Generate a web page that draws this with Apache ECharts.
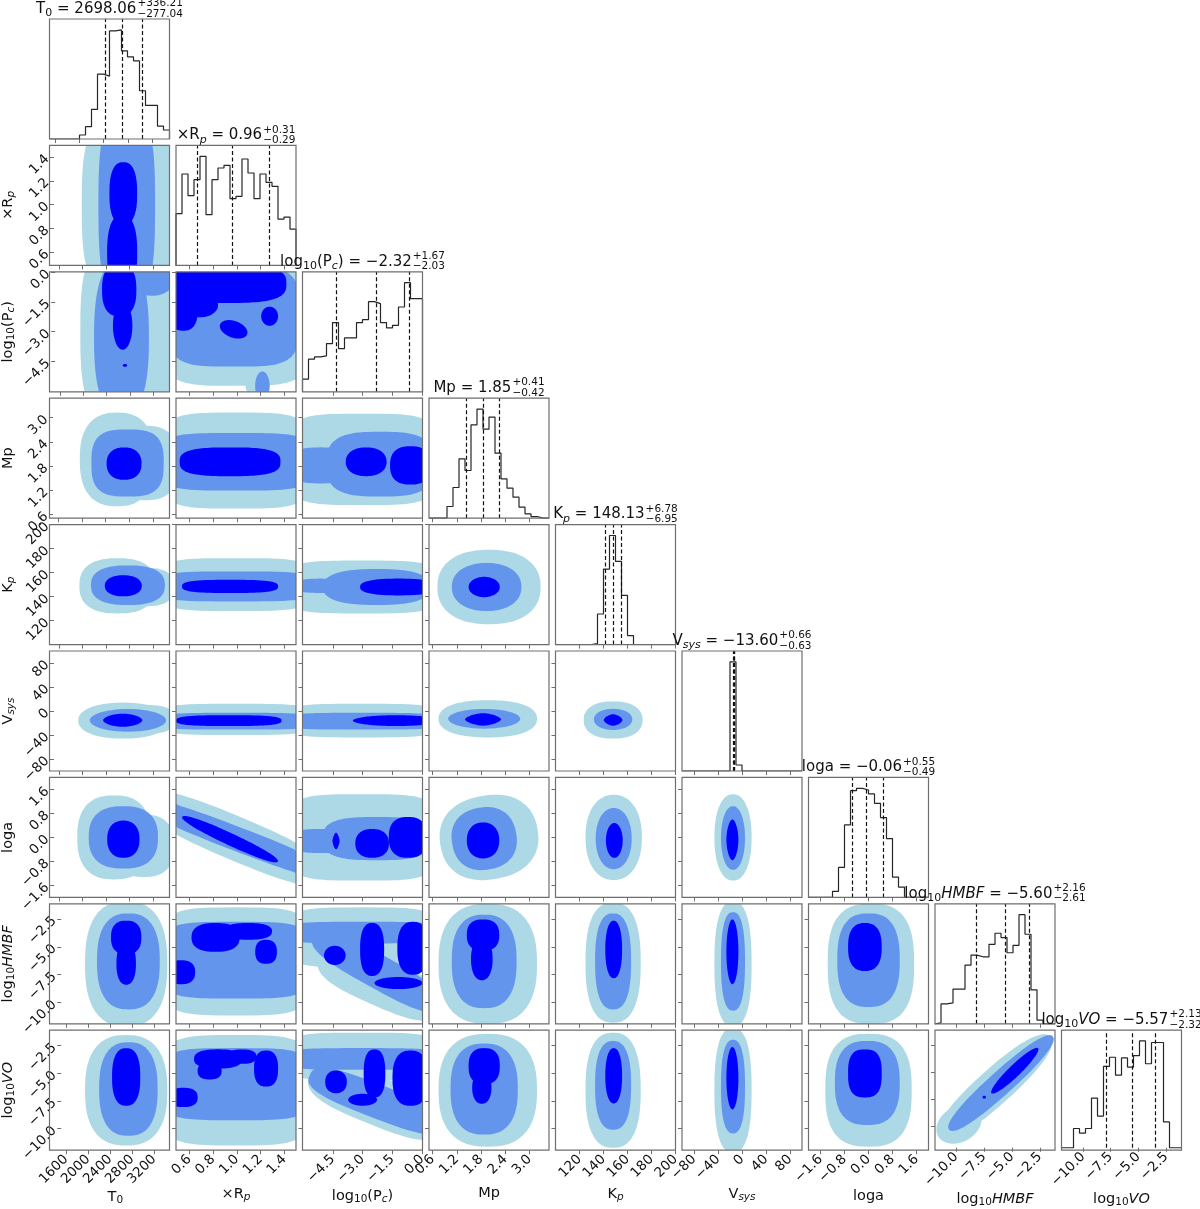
<!DOCTYPE html>
<html><head><meta charset="utf-8">
<script src="https://cdn.jsdelivr.net/npm/echarts@6/dist/echarts.min.js"></script>
<style>html,body{margin:0;padding:0;background:#fff}#c{width:1200px;height:1209px}</style>
</head><body><div id="c"></div>
<script>
// ---------------- DATA ----------------
const axisMin = [1513, 0.488, -6.03, 0.51, 100, -100, -2, -11.9, -11.95];
const axisMax = [3480, 1.498, 0.02, 3.48, 200, 100, 2, -1.15, -1.1];
const tickValues = [
  [1600,2000,2400,2800,3200],[0.6,0.8,1.0,1.2,1.4],[-4.5,-3.0,-1.5,0.0],[0.6,1.2,1.8,2.4,3.0],
  [120,140,160,180,200],[-80,-40,0,40,80],[-1.6,-0.8,0.0,0.8,1.6],[-10.0,-7.5,-5.0,-2.5],[-10.0,-7.5,-5.0,-2.5]];
const tickLabels = [
  ['1600','2000','2400','2800','3200'],['0.6','0.8','1.0','1.2','1.4'],['−4.5','−3.0','−1.5','0.0'],
  ['0.6','1.2','1.8','2.4','3.0'],['120','140','160','180','200'],['−80','−40','0','40','80'],
  ['−1.6','−0.8','0.0','0.8','1.6'],['−10.0','−7.5','−5.0','−2.5'],['−10.0','−7.5','−5.0','−2.5']];
const labelFrags = [
  [['T','n'],['0','s']],
  [['×R','n'],['p','si']],
  [['log','n'],['10','s'],['(P','n'],['c','si'],[')','n']],
  [['Mp','n']],
  [['K','n'],['p','si']],
  [['V','n'],['sys','si']],
  [['loga','n']],
  [['log','n'],['10','s'],['HMBF','i']],
  [['log','n'],['10','s'],['VO','i']]];
const medians = [2698.06, 0.96, -2.32, 1.85, 148.13, -13.60, -0.06, -5.60, -5.57];
const errPlus = [336.21, 0.31, 1.67, 0.41, 6.78, 0.66, 0.55, 2.16, 2.13];
const errMinus = [277.04, 0.29, 2.03, 0.42, 6.95, 0.63, 0.49, 2.61, 2.32];

const histT0   = [0,0,0,0,0,12,37,89,195,189,325,328,265,247,235,145,101,101,39,27];
const histRp   = [155,274,209,257,327,152,257,292,300,200,207,319,277,200,274,249,237,139,145,109];
const histPc   = [38,98,105,108,145,208,130,162,162,208,217,271,265,208,192,200,255,328,280,280];
const histMp   = [0,0,0,35,92,178,143,280,327,267,303,195,118,90,63,33,13,5,0,0];
const histKp   = [0,0,0,0,0,0,3,92,227,328,250,148,27,0,0,0,0,0,0,0];
const histVsys = [0,0,0,0,0,0,0,0,310,17,0,0,0,0,0,0,0,0,0,0];
const histLoga = [0,0,0,0,18,90,218,321,328,323,311,283,240,177,61,31,0,0,0,0];
const histHMBF = [3,59,62,103,103,174,204,199,199,236,269,256,211,233,324,266,101,11,0,0];
const histVO   = [0,0,59,45,59,152,97,249,277,222,275,247,282,327,257,322,322,79,0,0];

// contour blobs: [level, cx, cy, rx, ry, rotationDeg, exponent]  (data units)
const c_1_0 = [[0,2811,0.993,826,0.808,0,3],[1,2752,0.993,482,0.808,0,3],[2,2693,1.094,236,0.263,0,2.5],[2,2674,0.589,256,0.323,0,2.5]];
const c_2_0 = [[0,2772,-3.0,826,4.84,0,3],[1,2654,-3.31,472,3.93,0,2.5],[1,3185,-0.28,393,0.91,0,2],[2,2615,-0.89,295,1.33,0,2.5],[2,2674,-2.7,167,1.21,0,2],[2,2713,-4.7,39,0.07,0,2]];
const c_3_0 = [[0,2595,1.965,629,1.158,0,2.5],[0,3087,1.876,551,0.921,0,2.5],[1,2772,1.876,610,0.832,0,3],[2,2713,1.861,295,0.401,0,2.3]];
const c_4_0 = [[0,2595,149,649,23,0,2.5],[0,3087,148,472,16,0,2.5],[1,2772,149.5,629,16.5,0,2.5],[2,2693,149,315,8.8,0,2.2]];
const c_5_0 = [[0,2693,-16,767,30,0,2.2],[0,3087,-14,492,24,0,2.5],[1,2772,-15.6,649,19,0,2],[2,2683,-15.4,334,11,0,1.8]];
const c_6_0 = [[0,2536,0,629,1.4,0,2.5],[0,3047,-0.28,511,1.04,0,2.5],[1,2693,0,590,1.04,0,2.5],[2,2693,-0.06,275,0.62,0,2.3]];
const c_7_0 = [[0,2693,-6.53,747,5.59,0,2.5],[1,2733,-6.31,570,4.3,0,2.5],[2,2693,-4.16,275,1.5,0,2.5],[2,2693,-6.5,177,1.9,0,2.3]];
const c_8_0 = [[0,2693,-6.53,747,4.99,0,2.5],[1,2733,-6.42,531,4.23,0,2.5],[2,2693,-5.33,256,2.6,0,2.5]];
const c_2_1 = [[0,0.993,-2.4,0.657,3.33,0,4],[0,1.175,-5.73,0.101,0.605,0,2],[1,0.973,-2.22,0.556,2.54,0,4],[1,1.215,-5.73,0.061,0.726,0,2],
  [2,0.912,-0.585,0.505,0.968,0,3],[2,0.549,-1.92,0.121,1.03,0,2.5],[2,0.69,-1.67,0.152,0.605,0,2],[2,0.973,-2.88,0.121,0.42,-20,2],[2,1.276,-2.22,0.071,0.484,0,2]];
const c_3_1 = [[0,0.993,1.936,0.657,1.188,0,4],[1,0.993,1.906,0.657,0.713,0,4],[2,0.943,1.906,0.424,0.356,0,3]];
const c_4_1 = [[0,0.993,150,0.657,22,0,4],[1,0.993,148.5,0.657,12.5,0,4],[2,0.943,148.5,0.404,5.5,0,3]];
const c_5_1 = [[0,0.993,-14,0.657,26,0,4],[1,0.993,-17,0.657,14,0,4],[2,0.932,-16,0.444,9,0,3]];
const c_6_1 = [[0,0.993,-0.04,0.909,0.72,-23,2.5],[1,0.993,-0.04,0.909,0.4,-21,2.5],[2,0.943,-0.06,0.444,0.2,-25,2.2]];
const c_7_1 = [[0,0.993,-6.31,0.657,4.84,0,4],[1,0.993,-6.2,0.657,3.44,0,4],[2,0.821,-4.16,0.202,1.29,0,2.5],[2,1.094,-3.62,0.202,0.75,0,2.5],
  [2,1.246,-5.45,0.091,1.075,0,2.5],[2,0.528,-7.28,0.121,1.075,0,2.5]];
const c_8_1 = [[0,0.993,-6.53,0.657,4.99,0,4],[1,0.993,-5.98,0.657,3.26,0,4],[2,0.842,-3.7,0.202,0.87,0,2.5],[2,0.771,-4.79,0.101,0.76,0,2.5],
  [2,1.044,-3.49,0.121,0.65,0,2.5],[2,1.246,-4.57,0.101,1.63,0,2.5],[2,0.549,-7.18,0.121,0.87,0,2.5]];
const c_3_2 = [[0,-3.0,1.965,3.93,1.129,0,4],[1,-2.1,1.847,2.72,0.802,0,3],[1,-5.12,1.817,1.815,0.446,0,2.5],[2,-2.82,1.906,1.03,0.356,0,2.2],[2,-0.585,1.817,1.03,0.475,0,2.5]];
const c_4_2 = [[0,-3.0,148,3.93,22,0,4],[1,-2.28,148,2.72,15,0,2.5],[1,-5.12,149,1.815,6,0,2],[2,-1.19,148,1.936,7,0,2.5]];
const c_5_2 = [[0,-3.0,-16,3.93,28,0,4],[1,-3.0,-17,3.93,14,0,4],[2,-1.31,-16,2.18,9,0,2]];
const c_6_2 = [[0,-3.0,0,3.93,1.44,0,4],[1,-2.28,-0.04,2.72,0.72,0,3],[1,-5.12,-0.12,1.815,0.4,0,2.5],[2,-4.34,-0.12,0.18,0.28,0,1.5],
  [2,-2.52,-0.2,0.847,0.48,0,2.3],[2,-0.71,0,0.968,0.68,0,2.5]];
const c_7_2 = [[0,-3.0,-4.16,3.93,2.69,0,4],[0,-2.1,-8.14,3.33,2.15,-24,3],[1,-3.0,-3.73,3.93,0.97,0,4],[1,-2.28,-7.17,3.63,1.51,-29,3],
  [2,-4.4,-5.77,0.545,0.86,0,2],[2,-2.52,-5.24,0.605,2.37,0,2.5],[2,-1.19,-8.25,1.21,0.54,0,2],[2,-0.46,-5.13,0.787,2.37,0,2.5]];
const c_8_2 = [[0,-3.0,-3.49,3.93,2.17,0,4],[0,-2.28,-7.5,3.63,2.17,-22,3],[1,-3.0,-3.7,3.93,0.98,0,4],[1,-2.28,-7.52,3.63,1.52,-21,3],
  [2,-4.34,-5.77,0.545,1.03,0,2.2],[2,-2.4,-5.01,0.545,2.17,0,2.5],[2,-3.0,-7.39,0.726,0.54,0,2],[2,-0.585,-5.44,0.908,2.5,0,2.5]];
const c_4_3 = [[0,1.995,148,1.277,31,0,2.3],[1,1.936,148,0.861,20,0,2.2],[2,1.876,148,0.386,8.5,0,2]];
const c_5_3 = [[0,1.965,-13,1.218,31,0,2.3],[1,1.876,-13,0.891,16.4,0,2],[2,1.847,-14,0.446,10.4,0,1.6]];
const c_6_3 = [[0,1.995,0,1.218,1.4,10,2.3],[1,1.876,-0.04,0.802,1.04,10,2.3],[2,1.847,-0.1,0.401,0.6,0,2.2]];
const c_7_3 = [[0,1.965,-6.53,1.218,5.38,0,2.5],[1,1.876,-6.31,0.802,4.19,0,2.5],[2,1.847,-3.95,0.401,1.4,0,2.5],[2,1.817,-6.1,0.267,1.9,0,2.2]];
const c_8_3 = [[0,1.965,-6.53,1.218,5.1,0,2.5],[1,1.876,-6.42,0.832,4.12,0,2.5],[2,1.876,-4.35,0.386,1.63,0,2.5],[2,1.817,-6.3,0.238,1.45,0,2.2]];
const c_5_4 = [[0,148,-15,24.5,31,0,2.3],[1,148,-14,16,17.6,0,2.1],[2,148,-15,7.8,9.6,0,1.6]];
const c_6_4 = [[0,148.5,0,23.5,1.42,0,2.2],[1,148.5,-0.04,15,1.02,0,2.1],[2,149,-0.1,7,0.58,0,2]];
const c_7_4 = [[0,148,-6.42,23,5.38,0,2.5],[1,148,-6.31,15,4.3,0,2.5],[2,148.5,-5.24,7,2.58,0,2.2]];
const c_8_4 = [[0,148,-6.53,23,5.2,0,2.5],[1,148,-6.09,15,4.01,0,2.5],[2,148.5,-5.22,7,2.5,0,2.2]];
const c_6_5 = [[0,-15,0,31,1.44,0,2.2],[1,-15,-0.02,20,1.06,0,2.1],[2,-16,-0.08,10,0.68,0,1.8]];
const c_7_5 = [[0,-15,-6.53,31,5.59,0,2.5],[1,-15,-6.31,20,4.41,0,2.5],[2,-16,-5.45,10,2.9,0,2]];
const c_8_5 = [[0,-15,-6.53,31,5.64,0,2.5],[1,-15,-6.2,20,4.23,0,2.5],[2,-16,-5.44,10,2.82,0,2]];
const c_7_6 = [[0,0.08,-6.53,1.44,5.38,0,2.7],[1,0,-6.2,1.04,4.19,0,2.6],[2,-0.12,-5.02,0.56,2.15,0,2.5]];
const c_8_6 = [[0,0,-6.53,1.44,5.1,0,2.7],[1,-0.04,-5.87,1.08,3.8,0,2.6],[2,-0.12,-5.01,0.56,2.17,0,2.8]];
const c_8_7 = [[0,-6.53,-6.31,6.67,1.63,42,2.3],[0,-9.75,-9.78,2.15,1.63,30,2],[1,-5.99,-5.98,6.24,1.09,42,2.3],[2,-4.75,-4.84,2.9,0.54,44,2],[2,-7.49,-7.28,0.16,0.13,0,2]];

// ---------------- BUILD ----------------
const hists = [histT0, histRp, histPc, histMp, histKp, histVsys, histLoga, histHMBF, histVO];
const contours = {
  '1_0':c_1_0,'2_0':c_2_0,'3_0':c_3_0,'4_0':c_4_0,'5_0':c_5_0,'6_0':c_6_0,'7_0':c_7_0,'8_0':c_8_0,
  '2_1':c_2_1,'3_1':c_3_1,'4_1':c_4_1,'5_1':c_5_1,'6_1':c_6_1,'7_1':c_7_1,'8_1':c_8_1,
  '3_2':c_3_2,'4_2':c_4_2,'5_2':c_5_2,'6_2':c_6_2,'7_2':c_7_2,'8_2':c_8_2,
  '4_3':c_4_3,'5_3':c_5_3,'6_3':c_6_3,'7_3':c_7_3,'8_3':c_8_3,
  '5_4':c_5_4,'6_4':c_6_4,'7_4':c_7_4,'8_4':c_8_4,
  '6_5':c_6_5,'7_5':c_7_5,'8_5':c_8_5,
  '7_6':c_7_6,'8_6':c_8_6,'8_7':c_8_7};

const N = 9, PANEL = 120, STEP_X = 126.5, STEP_Y = 126.4, LEFT0 = 49.5, TOP0 = 19;
const FONT = '"DejaVu Sans", "Liberation Sans", sans-serif';
const LEVEL_COLORS = ['#add8e6', '#6495ed', '#0000ff'];
const TICK_FS = 13.5, NAME_FS = 14.5, MAIN_FS = 15, SCRIPT_FS = 10.5;

function fmt(v){ return (v < 0 ? '−' : '') + Math.abs(v).toFixed(2); }
function tickLabel(p, v){
  const i = tickValues[p].findIndex(t => Math.abs(t - v) < 1e-6);
  return i >= 0 ? tickLabels[p][i] : '';
}
function richName(p){ return labelFrags[p].map(f => '{' + f[1] + '|' + f[0] + '}').join(''); }
const nameRich = {
  n: {fontSize: NAME_FS, fontFamily: FONT, color: '#111'},
  i: {fontSize: NAME_FS, fontFamily: FONT, color: '#111', fontStyle: 'italic'},
  s: {fontSize: 10.5, fontFamily: FONT, color: '#111', padding: [6,0,0,0]},
  si: {fontSize: 10.5, fontFamily: FONT, color: '#111', fontStyle: 'italic', padding: [6,0,0,0]}
};

function renderBlob(params, api){
  const lvl = api.value(0), cx = api.value(1), cy = api.value(2), rx = api.value(3), ry = api.value(4);
  const rot = api.value(5) * Math.PI / 180, n = api.value(6);
  const c = api.coord([cx, cy]);
  const s = api.size([rx, ry], [cx, cy]);
  const a = s[0], b = s[1];
  const cs = params.coordSys;
  const pts = [];
  const K = 120;
  for (let k = 0; k < K; k++){
    const t = k / K * 2 * Math.PI;
    const ct = Math.cos(t), st = Math.sin(t);
    const u = a * Math.sign(ct) * Math.pow(Math.abs(ct), 2 / n);
    const v = b * Math.sign(st) * Math.pow(Math.abs(st), 2 / n);
    const X = u * Math.cos(rot) - v * Math.sin(rot);
    const Y = u * Math.sin(rot) + v * Math.cos(rot);
    let px = c[0] + X, py = c[1] - Y;
    px = Math.min(Math.max(px, cs.x), cs.x + cs.width);
    py = Math.min(Math.max(py, cs.y), cs.y + cs.height);
    pts.push([px, py]);
  }
  return {type: 'polygon', shape: {points: pts}, style: {fill: LEVEL_COLORS[lvl]}, silent: true};
}

const grids = [], xAxes = [], yAxes = [], series = [], graphics = [];
let gi = 0;
for (let r = 0; r < N; r++){
  for (let c = 0; c <= r; c++){
    const left = LEFT0 + STEP_X * c, top = TOP0 + STEP_Y * r;
    grids.push({left: left, top: top, width: PANEL, height: PANEL, containLabel: false});
    graphics.push({type: 'rect', shape: {x: left, y: top, width: PANEL, height: PANEL},
      style: {fill: 'none', stroke: '#6e6e6e', lineWidth: 1.2}, z: 100, silent: true});
    xAxes.push({
      gridIndex: gi, type: 'value', min: axisMin[c], max: axisMax[c], position: 'bottom',
      axisLine: {show: false, onZero: false}, splitLine: {show: false},
      axisTick: {show: true, inside: false, length: 4, lineStyle: {color: '#6e6e6e', width: 1}, customValues: tickValues[c]},
      axisLabel: {show: r === N - 1, rotate: 45, margin: 7, fontSize: TICK_FS, fontFamily: FONT, color: '#111',
        customValues: tickValues[c], formatter: (v => tickLabel(c, v))},
      name: r === N - 1 ? richName(c) : '', nameLocation: 'middle', nameGap: 36,
      nameTextStyle: {fontSize: NAME_FS, fontFamily: FONT, color: '#111', rich: nameRich}
    });
    if (c === r){
      const h = hists[c];
      const hmax = Math.max.apply(null, h);
      yAxes.push({gridIndex: gi, type: 'value', min: 0, max: hmax * 1.1, position: 'left',
        axisLine: {show: false, onZero: false}, splitLine: {show: false}, axisTick: {show: false}, axisLabel: {show: false}});
      const nb = h.length, w = (axisMax[c] - axisMin[c]) / nb;
      const pts = [[axisMin[c], 0]];
      for (let i = 0; i < nb; i++){
        pts.push([axisMin[c] + i * w, h[i]]);
        pts.push([axisMin[c] + (i + 1) * w, h[i]]);
      }
      pts.push([axisMax[c], 0]);
      series.push({
        type: 'line', xAxisIndex: gi, yAxisIndex: gi, data: pts, symbol: 'none', silent: true, clip: true,
        lineStyle: {color: '#262626', width: 1.2}, animation: false, z: 3,
        markLine: {symbol: ['none', 'none'], silent: true, label: {show: false}, animation: false,
          lineStyle: {color: '#111', type: [4, 2.5], width: 1.2},
          data: [{xAxis: medians[c] - errMinus[c]}, {xAxis: medians[c]}, {xAxis: medians[c] + errPlus[c]}]}
      });
    } else {
      yAxes.push({
        gridIndex: gi, type: 'value', min: axisMin[r], max: axisMax[r], position: 'left',
        axisLine: {show: false, onZero: false}, splitLine: {show: false},
        axisTick: {show: true, inside: false, length: 4, lineStyle: {color: '#6e6e6e', width: 1}, customValues: tickValues[r]},
        axisLabel: {show: c === 0, rotate: 45, margin: 7, fontSize: TICK_FS, fontFamily: FONT, color: '#111',
          customValues: tickValues[r], formatter: (v => tickLabel(r, v))},
        name: c === 0 ? richName(r) : '', nameLocation: 'middle', nameGap: 37, nameRotate: 90,
        nameTextStyle: {fontSize: NAME_FS, fontFamily: FONT, color: '#111', rich: nameRich}
      });
      const blobs = contours[r + '_' + c].slice().sort((p, q) => p[0] - q[0]);
      series.push({type: 'custom', xAxisIndex: gi, yAxisIndex: gi, data: blobs, renderItem: renderBlob,
        encode: {x: 1, y: 2}, clip: true, silent: true, animation: false, z: 2});
    }
    gi++;
  }
}

// titles above the diagonal panels
const mctx = document.createElement('canvas').getContext('2d');
function fontStr(size, italic){ return (italic ? 'italic ' : '') + size + 'px ' + FONT; }
function measure(t, size, italic){ mctx.font = fontStr(size, italic); return mctx.measureText(t).width; }
for (let c = 0; c < N; c++){
  const cxp = LEFT0 + STEP_X * c + PANEL / 2, top = TOP0 + STEP_Y * c;
  const frags = labelFrags[c].concat([[' = ' + fmt(medians[c]), 'n']]);
  const items = frags.map(f => {
    const sub = f[1] === 's' || f[1] === 'si';
    const it = f[1] === 'i' || f[1] === 'si';
    const size = sub ? 11 : MAIN_FS;
    return {t: f[0], size: size, italic: it, sub: sub, w: measure(f[0], size, it)};
  });
  const mainW = items.reduce((s, it) => s + it.w, 0);
  const sup = '+' + errPlus[c].toFixed(2), sb = '−' + errMinus[c].toFixed(2);
  const scriptW = Math.max(measure(sup, SCRIPT_FS, false), measure(sb, SCRIPT_FS, false));
  const total = mainW + 1 + scriptW;
  let x = cxp - total / 2;
  const base = top - 5;
  items.forEach(it => {
    const bl = it.sub ? base + 3.2 : base;
    graphics.push({type: 'text', x: x, y: bl - 0.346 * it.size, silent: true, z: 110,
      style: {text: it.t, font: fontStr(it.size, it.italic), fill: '#111', align: 'left', verticalAlign: 'middle'}});
    x += it.w;
  });
  x += 1;
  graphics.push({type: 'text', x: x, y: top - 12 - 0.346 * SCRIPT_FS, silent: true, z: 110,
    style: {text: sup, font: fontStr(SCRIPT_FS, false), fill: '#111', align: 'left', verticalAlign: 'middle'}});
  graphics.push({type: 'text', x: x, y: top - 1.5 - 0.346 * SCRIPT_FS, silent: true, z: 110,
    style: {text: sb, font: fontStr(SCRIPT_FS, false), fill: '#111', align: 'left', verticalAlign: 'middle'}});
}

const chart = echarts.init(document.getElementById('c'), null, {renderer: 'canvas'});
chart.setOption({animation: false, backgroundColor: '#ffffff', grid: grids, xAxis: xAxes, yAxis: yAxes, series: series, graphic: graphics});
</script>
</body></html>
